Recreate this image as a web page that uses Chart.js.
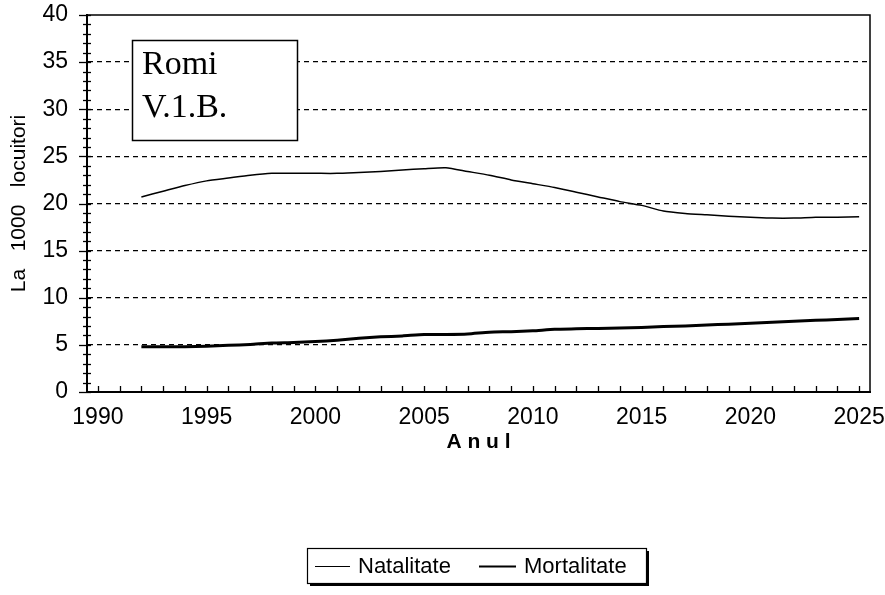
<!DOCTYPE html>
<html><head><meta charset="utf-8">
<script src="https://cdn.jsdelivr.net/npm/chart.js@4/dist/chart.umd.min.js"></script>
<style>html,body{margin:0;padding:0;background:#fff}#wrap{width:885px;height:595px;position:relative}</style>
</head><body><div id="wrap"><canvas id="c" width="885" height="595"></canvas></div>
<script>
const years = [1992,1993,1994,1995,1996,1997,1998,1999,2000,2001,2002,2003,2004,2005,2006,2007,2008,2009,2010,2011,2012,2013,2014,2015,2016,2017,2018,2019,2020,2021,2022,2023,2024,2025];
const natalitate = [20.7,21.3,21.9,22.4,22.7,23.0,23.2,23.2,23.2,23.2,23.3,23.4,23.55,23.7,23.8,23.4,23.0,22.5,22.1,21.7,21.2,20.7,20.2,19.8,19.2,18.95,18.8,18.65,18.55,18.45,18.45,18.55,18.55,18.6];
const mortalitate = [4.8,4.8,4.8,4.85,4.95,5.05,5.2,5.25,5.35,5.5,5.7,5.85,5.95,6.1,6.1,6.15,6.35,6.4,6.5,6.65,6.7,6.75,6.8,6.85,6.95,7.0,7.1,7.2,7.3,7.4,7.5,7.6,7.7,7.8];
const seriesNames = ['Natalitate','Mortalitate'];
const xTickYears = [1990,1991,1992,1993,1994,1995,1996,1997,1998,1999,2000,2001,2002,2003,2004,2005,2006,2007,2008,2009,2010,2011,2012,2013,2014,2015,2016,2017,2018,2019,2020,2021,2022,2023,2024,2025];
const xTickLabels = [1990,1995,2000,2005,2010,2015,2020,2025];
const yTickLabels = [0,5,10,15,20,25,30,35,40];
const yMinorTicks = [0,1,2,3,4,5,6,7,8,9,10,11,12,13,14,15,16,17,18,19,20,21,22,23,24,25,26,27,28,29,30,31,32,33,34,35,36,37,38,39,40];
const textBoxLines = ['Romi','V.1.B.'];
const xTitle = 'A n u l';
const yTitle = 'La   1000   locuitori';

const FONT = '"Liberation Sans", Arial, sans-serif';

const decor = {
  id: 'decor',
  afterDraw(chart) {
    const ctx = chart.ctx;
    const a = chart.chartArea;
    const xs = chart.scales.x, ys = chart.scales.y;
    ctx.save();
    ctx.strokeStyle = '#000';
    ctx.lineWidth = 1.5;
    ctx.beginPath();
    ctx.moveTo(a.left, a.top); ctx.lineTo(a.right, a.top); ctx.lineTo(a.right, a.bottom);
    ctx.stroke();
    ctx.lineWidth = 1.3;
    yMinorTicks.forEach(v => {
      const py = Math.round(ys.getPixelForValue(v)) + 0.5;
      const major = yTickLabels.includes(v);
      ctx.beginPath();
      ctx.moveTo(a.left - (major ? 8 : 4), py);
      ctx.lineTo(a.left + 4, py);
      ctx.stroke();
    });
    xTickYears.forEach(v => {
      const px = Math.round(xs.getPixelForValue(v)) + 0.5;
      ctx.beginPath();
      ctx.moveTo(px, a.bottom);
      ctx.lineTo(px, a.bottom - 6);
      ctx.stroke();
    });
    const bx = 132, by = 40, bw = 165, bh = 100;
    ctx.fillStyle = '#fff';
    ctx.fillRect(bx, by, bw, bh);
    ctx.lineWidth = 1.5;
    ctx.strokeRect(bx + 0.5, by + 0.5, bw, bh);
    ctx.fillStyle = '#000';
    ctx.font = '34px "Liberation Serif", "Times New Roman", serif';
    ctx.textBaseline = 'alphabetic';
    ctx.textAlign = 'left';
    ctx.fillText(textBoxLines[0], 142, 74);
    ctx.fillText(textBoxLines[1], 142, 117);
    const lx = 307, ly = 548, lw = 339, lh = 35;
    ctx.fillStyle = '#000';
    ctx.fillRect(lx + 3, ly + 3, lw, lh);
    ctx.fillStyle = '#fff';
    ctx.fillRect(lx, ly, lw, lh);
    ctx.lineWidth = 1.2;
    ctx.strokeRect(lx + 0.5, ly + 0.5, lw, lh);
    ctx.font = '22px ' + FONT;
    ctx.fillStyle = '#000';
    ctx.textBaseline = 'middle';
    const cy = ly + lh / 2 + 1;
    const ds = chart.data.datasets;
    const items = [{x0: 315, x1: 350, tx: 358}, {x0: 479, x1: 516, tx: 524}];
    ds.forEach((d, i) => {
      const it = items[i];
      ctx.lineWidth = d.borderWidth === 3 ? 2 : 1.2;
      ctx.beginPath();
      ctx.moveTo(it.x0, cy); ctx.lineTo(it.x1, cy);
      ctx.stroke();
      ctx.fillText(d.label, it.tx, cy);
    });
    ctx.restore();
  }
};

new Chart(document.getElementById('c'), {
  type: 'line',
  data: {
    datasets: [
      { label: seriesNames[0], data: years.map((y, i) => ({x: y, y: natalitate[i]})), borderColor: '#000', borderWidth: 1.5, pointRadius: 0, tension: 0.2, fill: false },
      { label: seriesNames[1], data: years.map((y, i) => ({x: y, y: mortalitate[i]})), borderColor: '#000', borderWidth: 3, pointRadius: 0, tension: 0.2, fill: false }
    ]
  },
  options: {
    responsive: false,
    animation: false,
    events: [],
    layout: { padding: { left: 0, top: 15, right: 15, bottom: 133 } },
    plugins: { legend: { display: false }, tooltip: { enabled: false } },
    scales: {
      x: {
        type: 'linear', position: 'bottom', min: 1989.5, max: 2025.5,
        afterBuildTicks: s => { s.ticks = xTickYears.map(v => ({value: v})); },
        afterFit: s => { s.height = 70; s.paddingLeft = 0; s.paddingRight = 0; },
        ticks: {
          autoSkip: false, maxRotation: 0, minRotation: 0, padding: 12, color: '#000',
          font: { family: FONT, size: 23 },
          callback: v => xTickLabels.includes(v) ? String(v) : ''
        },
        grid: { drawOnChartArea: false, drawTicks: false },
        border: { display: true, color: '#000', width: 2 },
        title: { display: true, text: xTitle, color: '#000', font: { family: FONT, size: 21, weight: 'bold' }, padding: { top: 0, bottom: 7 } }
      },
      y: {
        type: 'linear', min: 0, max: 40,
        afterBuildTicks: s => { s.ticks = yMinorTicks.map(v => ({value: v})); },
        afterFit: s => { s.width = 87; s.paddingTop = 0; s.paddingBottom = 0; },
        ticks: {
          autoSkip: false, padding: 19, color: '#000',
          font: { family: FONT, size: 23 },
          callback: v => yTickLabels.includes(v) ? String(v) : ''
        },
        grid: {
          drawTicks: false, lineWidth: 1.3,
          color: c => (c.tick && yTickLabels.includes(c.tick.value) && c.tick.value > 0 && c.tick.value < 40) ? '#000' : 'rgba(0,0,0,0)'
        },
        border: { display: true, color: '#000', width: 2, dash: [5, 4] },
        title: { display: true, text: yTitle, color: '#000', font: { family: FONT, size: 21 }, padding: { top: 7, bottom: 0 } }
      }
    }
  },
  plugins: [decor]
});
</script>
</body></html>
